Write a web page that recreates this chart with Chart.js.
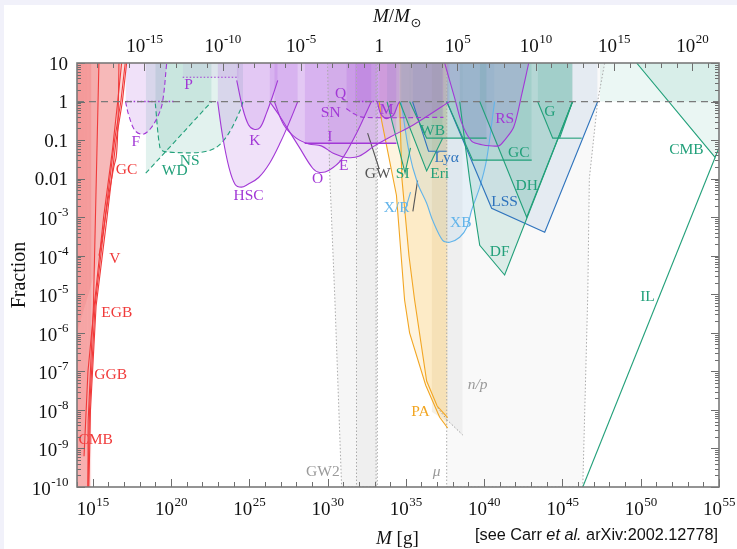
<!DOCTYPE html>
<html><head><meta charset="utf-8">
<script src="https://cdn.jsdelivr.net/npm/chart.js@4.4.1/dist/chart.umd.min.js"></script>
<style>html,body{margin:0;padding:0;background:#fff;}canvas{display:block;}</style>
</head><body>
<canvas id="c" width="737" height="549"></canvas>
<script>
// ---------- DATA: log10(M / g) and log10(fraction) ----------
const MSUN_G = 1.989e33;
const X_MIN_LOG = 14, X_MAX_LOG = 55, Y_MIN_LOG = -10, Y_MAX_LOG = 1;
const X_TICK_EXP = [15, 20, 25, 30, 35, 40, 45, 50, 55];
const TOP_TICK_EXP = [-15, -10, -5, 0, 5, 10, 15, 20];
const Y_TICK_EXP = [1, 0, -1, -2, -3, -4, -5, -6, -7, -8, -9, -10];

// evaporation (red)
const EV_CMB_M = [14, 14.70, 14.71, 15.05, 15.40];
const EV_CMB_F = [-10, -10, -8.3, -5.3, 1];
const EV_EGB_M = [14, 14.70, 14.80, 15.15, 15.80, 16.40, 16.80, 17.08];
const EV_EGB_F = [-10, -10, -8, -5.3, -3, -1, 0, 1];
const EV_V_M = [14, 14.76, 14.86, 15.22, 15.92, 16.50, 16.90, 17.17];
const EV_V_F = [-10, -10, -8, -5.3, -3, -1, 0, 1];
const EV_GGB_M = [14, 14.45, 14.70, 15.10, 15.70, 16.25, 16.60, 16.85];
const EV_GGB_F = [-9.2, -9.2, -7, -5.3, -3, -1.3, 0, 1];
const EV_GC_M = [14, 15.4, 16.0, 16.35, 16.5, 16.58, 16.63, 16.68];
const EV_GC_F = [-6, -4, -2.5, -1.7, -1.45, -1.0, -0.3, 1];
const EV_BAND_M = [14, 14.92, 14.92];
const EV_BAND_F = [-10, -10, 1];

// lensing (purple)
const F_M = [17.1, 17.3, 17.7, 18.2, 18.7, 19.2, 19.47, 19.73];
const F_F = [0, -0.35, -0.75, -0.85, -0.7, -0.35, 0, 1];
const FDOT_M = [17.17, 20.24];
const FDOT_F = [0, 0];
const P_M = [20.75, 24.33];
const P_F = [0.63, 0.63];
const HSC_M = [22.98, 23.3, 23.7, 24.1, 24.5, 24.9, 25.6, 26.3, 27.0, 27.6, 28.1];
const HSC_F = [0, -0.9, -1.7, -2.15, -2.22, -2.15, -1.97, -1.6, -1.05, -0.5, 0];
const K_M = [24.2, 24.6, 24.95, 25.3, 25.7, 26.1, 26.5, 26.82];
const K_F = [0.55, -0.2, -0.6, -0.72, -0.67, -0.3, 0.15, 0.55];
const O_M = [26.3, 26.9, 27.4, 28.2, 29.05, 29.5, 30.1, 30.9, 31.85, 32.4, 32.8];
const O_F = [0, -0.35, -0.67, -1.19, -1.73, -1.84, -1.78, -1.5, -0.82, -0.35, 0];
const E_M = [26.6, 27.2, 28.0, 28.8, 29.6, 30.4, 31.2, 32.0, 33.0, 34.0, 35.5, 37.8];
const E_F = [0, -0.6, -0.95, -1.1, -1.15, -1.35, -1.45, -1.42, -1.15, -0.92, -0.6, 0];
const I_M = [28.54, 34.4];
const I_F = [-1.08, -1.08];
const SN_M = [31.2, 31.65, 32.3, 37.4];
const SN_F = [-0.18, -0.31, -0.41, -0.41];
const Q_M = [31.75, 33.2];
const Q_F = [0, 0];
const ML_M = [33.18, 33.37, 33.63, 33.82, 34.2, 34.47, 34.6];
const ML_F = [0, -0.3, -0.42, -0.44, -0.36, -0.1, 0];
const RS_M = [37.48, 38.12, 38.57, 39.2, 39.85, 40.93, 41.31, 41.89, 42.4, 42.85];
const RS_F = [1, 0.09, -0.56, -1.03, -1.12, -1.15, -1.0, -0.66, 0.18, 1];

// dynamical (green)
const WD_M = [18.39, 18.39, 22.6];
const WD_F = [1, -1.86, 0];
const NS_M = [19.0, 19.3, 19.6, 21.84, 22.9, 23.7, 24.45, 24.6];
const NS_F = [-0.05, -1.2, -1.3, -1.32, -1.19, -0.82, -0.2, 0];
const WB_M = [35.24, 36.33, 40.16];
const WB_F = [0, -0.95, -0.95];
const ERI_M = [34.6, 36.33, 37.35];
const ERI_F = [0, -1.8, -0.95];
const SI_M = [33.8, 34.95, 35.3];
const SI_F = [0, -1.85, -1.2];
const GCD_M = [37.61, 39.27, 43.04];
const GCD_F = [0, -1.52, -1.52];
const DF_M = [38.44, 39.08, 39.72, 41.31, 45.65];
const DF_F = [0, -2.04, -3.73, -4.5, 0];
const DH_M = [39.72, 42.72, 45.65];
const DH_F = [0, -3.0, 0];
const G_M = [43.42, 44.38, 44.82, 45.65];
const G_F = [0, -0.95, -0.95, 0];
const G2_M = [44.82, 46.23];
const G2_F = [-0.95, -0.95];
const CMBA_M = [49.74, 54.75, 55];
const CMBA_F = [1, -1.45, -1.2];
const IL_M = [46.3, 54.75];
const IL_F = [-10, -1.45];
const MINT_M = [47.4, 55];
const MINT_F = [0, 0];

// blue / light blue
const LSS_M = [37.61, 40.48, 43.87, 47.25];
const LSS_F = [0, -2.77, -3.39, 0];
const LYA_M = [35.43, 36.45, 37.6];
const LYA_F = [0, -1.29, -1.29];
const XB_M = [34.7, 35.2, 35.75, 36.33, 36.71, 37.35, 37.8, 38.44, 38.9, 39.2, 39.72, 40.16, 40.67];
const XB_F = [0, -1.3, -2.12, -2.64, -3.08, -3.6, -3.65, -3.52, -3.26, -2.82, -2.22, -1.5, 0];
const XR_M = [34.9, 35.3];
const XR_F = [-2.9, -2.35];

// GW (dark gray lines)
const GW_M = [32.56, 33.3];
const GW_F = [-0.82, -1.75];
const GWB_M = [35.75, 35.45];
const GWB_F = [-2.05, -2.85];

// accretion (orange)
const PA1_M = [33.3, 33.45, 34.4, 34.92, 35.24, 36.27, 37.16, 37.67];
const PA1_F = [0, -0.49, -2.43, -5.15, -6.0, -7.36, -8.19, -8.47];
const PA2_M = [34.6, 34.75, 35.2, 35.56, 36.33, 37.0, 37.67];
const PA2_F = [0, -2.0, -4.0, -5.15, -7.25, -7.9, -8.2];
const TAN_M = [36.65, 37.61];
const TAN_F = [-8.05, -8.3];

// gray bands
const GW2_M = [30.0, 30.13, 30.47, 30.9, 33.18, 33.18];
const GW2_F = [1, -1.78, -5.15, -10, -10, 1];
const GWA_M = [31.85, 31.85, 33.1, 33.1];
const GWA_F = [1, -10, -10, 1];
const MU_M = [37.61, 37.61, 46.3, 46.62, 46.72, 47.25, 47.7];
const MU_F = [1, -10, -10, -5, -2, 0, 1];
const NP_M = [37.61, 38.63];
const NP_F = [-8.25, -8.65];
const NPL_M = [37.03, 37.61];
const NPL_F = [-7.94, -8.25];

const UNIT_M = [14, 55];
const UNIT_F = [0, 0];

// labels
const LAB_TEXT = ['P','F','GC','WD','NS','HSC','K','O','E','I','SN','Q','M','GW','SI','X/R','WB','Lyα','Eri','RS','G','GC','DH','LSS','XB','DF','CMB','IL','V','EGB','GGB','CMB','PA','n/p','μ','GW2'];
const LAB_M = [21.13,17.75,17.17,20.24,21.2,24.96,25.35,29.37,31.03,30.14,30.2,30.84,33.78,33.2,34.8,34.41,36.71,37.61,37.16,41.31,44.19,42.21,42.72,41.31,38.51,40.99,52.92,50.43,16.41,16.54,16.15,15.19,35.94,39.59,36.97,29.7];
const LAB_F = [0.42,-1.06,-1.78,-1.81,-1.55,-2.46,-1.03,-2.02,-1.68,-0.93,-0.3,0.21,-0.23,-1.89,-1.89,-2.77,-0.75,-1.47,-1.89,-0.46,-0.28,-1.32,-2.2,-2.61,-3.16,-3.91,-1.26,-5.08,-4.07,-5.49,-7.08,-8.79,-8.06,-7.36,-9.62,-9.62];
const LAB_COL = ['pur','pur','red','grn','grn','pur','pur','pur','pur','pur','pur','pur','pur','dgr','grn','lbl','grn','blu','grn','pur','grn','grn','grn','blu','lbl','grn','grn','grn','red','red','red','red','ora','gry','gry','gry'];
const LAB_ITALIC = ['n/p','μ'];

// ---------- STYLES ----------
const COL = {red:'#f03a3a', pur:'#a238d6', grn:'#22a07a', blu:'#2f74bd', lbl:'#62b4ea', ora:'#f2a623', gry:'#9a9a9a', dgr:'#555555'};
const RED_F='rgba(240,60,60,0.10)', PUR_F='rgba(165,75,220,0.17)', GRN_F='rgba(50,165,135,0.14)',
      BLU_F='rgba(60,120,190,0.10)', LBL_F='rgba(110,180,235,0.12)', ORA_F='rgba(250,200,100,0.20)',
      GRY_F='rgba(110,110,110,0.06)';
const SER = '"Liberation Serif","DejaVu Serif",serif';
const SANS = '"Liberation Sans","DejaVu Sans",sans-serif';
const DASH=[5,3], DOT=[1.5,2];
const HIDE_FIRST = {borderColor: c => c.p0DataIndex === 0 ? 'rgba(0,0,0,0)' : undefined};

function pts(M, F){ return M.map((m,i)=>({x:Math.pow(10,m), y:Math.pow(10,F[i])})); }
function ds(M, F, line, fillc, extra){
  return Object.assign({
    data: pts(M,F), borderColor: line || 'rgba(0,0,0,0)', borderWidth: line ? 1.1 : 0,
    backgroundColor: fillc || 'rgba(0,0,0,0)', fill: fillc ? 'end' : false,
    pointRadius: 0, tension: 0
  }, extra || {});
}

const datasets = [
  ds(UNIT_M, UNIT_F, '#7a7a7a', null, {borderDash:[7,5], borderWidth:1.3}),
  // red
  ds(EV_BAND_M, EV_BAND_F, null, 'rgba(240,60,60,0.16)'),
  ds(EV_CMB_M, EV_CMB_F, COL.red, RED_F, {segment:HIDE_FIRST}),
  ds(EV_EGB_M, EV_EGB_F, COL.red, RED_F, {segment:HIDE_FIRST}),
  ds(EV_V_M, EV_V_F, COL.red, RED_F, {segment:HIDE_FIRST}),
  ds(EV_GGB_M, EV_GGB_F, COL.red, RED_F, {segment:HIDE_FIRST}),
  ds(EV_GC_M, EV_GC_F, COL.red, RED_F, {segment:HIDE_FIRST, tension:0.3}),
  // purple
  ds(F_M, F_F, COL.pur, PUR_F, {borderDash:DASH, tension:0.35}),
  ds(FDOT_M, FDOT_F, COL.pur, null, {borderDash:DOT, borderWidth:1.5}),
  ds(P_M, P_F, COL.pur, 'rgba(170,80,220,0.08)', {borderDash:DOT}),
  ds(HSC_M, HSC_F, COL.pur, PUR_F, {tension:0.35}),
  ds(K_M, K_F, COL.pur, PUR_F, {tension:0.35}),
  ds(O_M, O_F, COL.pur, PUR_F, {tension:0.35}),
  ds(E_M, E_F, COL.pur, PUR_F, {tension:0.35}),
  ds(I_M, I_F, COL.pur, PUR_F, {borderWidth:1.5}),
  ds(SN_M, SN_F, COL.pur, PUR_F, {borderDash:DASH, tension:0.3}),
  ds(Q_M, Q_F, COL.pur, PUR_F, {borderDash:DOT, borderWidth:1.5}),
  ds(ML_M, ML_F, COL.pur, PUR_F, {tension:0.35}),
  ds(RS_M, RS_F, COL.pur, PUR_F, {tension:0.3}),
  // green
  ds(WD_M, WD_F, COL.grn, GRN_F, {borderDash:DASH, segment:HIDE_FIRST}),
  ds(NS_M, NS_F, COL.grn, GRN_F, {borderDash:DASH, tension:0.3}),
  ds(WB_M, WB_F, COL.grn, GRN_F),
  ds(ERI_M, ERI_F, COL.grn, GRN_F),
  ds(SI_M, SI_F, COL.grn, GRN_F),
  ds(GCD_M, GCD_F, COL.grn, GRN_F),
  ds(DF_M, DF_F, COL.grn, GRN_F),
  ds(DH_M, DH_F, COL.grn, GRN_F),
  ds(G_M, G_F, COL.grn, GRN_F),
  ds(G2_M, G2_F, COL.grn, null),
  ds(CMBA_M, CMBA_F, COL.grn, 'rgba(50,170,135,0.10)'),
  ds(IL_M, IL_F, COL.grn, null),
  ds(MINT_M, MINT_F, null, 'rgba(60,180,150,0.10)'),
  // blue
  ds(LSS_M, LSS_F, COL.blu, BLU_F),
  ds(LYA_M, LYA_F, COL.blu, BLU_F),
  ds(XB_M, XB_F, COL.lbl, LBL_F, {tension:0.3}),
  ds(XR_M, XR_F, COL.lbl, null),
  // GW lines
  ds(GW_M, GW_F, COL.dgr, null),
  ds(GWB_M, GWB_F, COL.dgr, null),
  // orange
  ds(PA1_M, PA1_F, COL.ora, ORA_F),
  ds(PA2_M, PA2_F, COL.ora, ORA_F),
  ds(TAN_M, TAN_F, null, 'rgba(190,160,100,0.16)'),
  // gray
  ds(GW2_M, GW2_F, '#aaaaaa', GRY_F, {borderDash:DOT, borderWidth:1}),
  ds(GWA_M, GWA_F, '#aaaaaa', 'rgba(110,110,110,0.05)', {borderDash:DOT, borderWidth:1}),
  ds(MU_M, MU_F, '#aaaaaa', 'rgba(110,110,110,0.045)', {borderDash:DOT, borderWidth:1}),
  ds(NP_M, NP_F, '#999999', 'rgba(110,110,110,0.07)', {borderDash:DOT, borderWidth:1}),
  ds(NPL_M, NPL_F, '#999999', null, {borderDash:DOT, borderWidth:1})
];

function powText(ctx, base, exp, x, y, align, sz){
  const esz = Math.round(sz*0.68);
  ctx.font = sz+'px '+SER; const w1 = ctx.measureText(base).width;
  ctx.font = esz+'px '+SER; const w2 = exp ? ctx.measureText(exp).width : 0;
  const W = w1+w2;
  const x0 = align==='center' ? x-W/2 : (align==='right' ? x-W : x);
  ctx.textAlign='left'; ctx.textBaseline='alphabetic';
  ctx.font = sz+'px '+SER; ctx.fillText(base, x0, y);
  if (exp){ ctx.font = esz+'px '+SER; ctx.fillText(exp, x0+w1+0.5, y-sz*0.47); }
}

const deco = {
  id:'deco',
  beforeDraw(chart){
    const c = chart.ctx; c.save();
    c.fillStyle='#ffffff'; c.fillRect(0,0,chart.width,chart.height);
    c.fillStyle='#f1f1fa'; c.fillRect(0,0,chart.width,5); c.fillRect(0,0,4,chart.height);
    c.restore();
  },
  afterDatasetsDraw(chart){
    const c = chart.ctx, xs = chart.scales.x, ys = chart.scales.y;
    c.save();
    c.textAlign='center'; c.textBaseline='middle';
    for (let i=0;i<LAB_TEXT.length;i++){
      const it = LAB_ITALIC.includes(LAB_TEXT[i]);
      c.font = (it?'italic ':'') + '15.5px ' + SER;
      c.fillStyle = COL[LAB_COL[i]];
      c.fillText(LAB_TEXT[i], xs.getPixelForValue(Math.pow(10,LAB_M[i])), ys.getPixelForValue(Math.pow(10,LAB_F[i])));
    }
    c.restore();
  },
  afterDraw(chart){
    const c = chart.ctx, xs = chart.scales.x, ys = chart.scales.y;
    const {left,right,top,bottom} = chart.chartArea;
    c.save();
    c.strokeStyle='#6e6e6e'; c.lineWidth=1;
    const seg=(a,b,d,e)=>{c.beginPath();c.moveTo(a,b);c.lineTo(d,e);c.stroke();};
    for (let e=X_MIN_LOG;e<=X_MAX_LOG;e++){
      const px = Math.round(xs.getPixelForValue(Math.pow(10,e)))+0.5;
      seg(px,bottom,px,bottom-(e%5===0?8:5));
    }
    for (let k=-18;k<=22;k++){
      const px = xs.getPixelForValue(MSUN_G*Math.pow(10,k));
      if (px<left+1||px>right-1) continue;
      const p = Math.round(px)+0.5;
      seg(p,top,p,top+(k%5===0?8:5));
    }
    for (let e=Y_MIN_LOG;e<=Y_MAX_LOG;e++){
      const py = Math.round(ys.getPixelForValue(Math.pow(10,e)))+0.5;
      seg(left,py,left+8,py); seg(right,py,right-8,py);
      if (e<Y_MAX_LOG) for (let d=2;d<=9;d++){
        const q = Math.round(ys.getPixelForValue(d*Math.pow(10,e)))+0.5;
        seg(left,q,left+4,q); seg(right,q,right-4,q);
      }
    }
    c.strokeStyle='#7a7a7a'; c.lineWidth=1.6;
    c.strokeRect(left,top,right-left,bottom-top);
    // tick labels
    c.fillStyle='#111';
    X_TICK_EXP.forEach(e=>{ powText(c,'10',String(e),xs.getPixelForValue(Math.pow(10,e)),515,'center',19); });
    TOP_TICK_EXP.forEach(k=>{
      const px = xs.getPixelForValue(MSUN_G*Math.pow(10,k));
      if (k===0) powText(c,'1','',px,52,'center',19);
      else powText(c,'10',String(k),px,52,'center',19);
    });
    Y_TICK_EXP.forEach(e=>{
      const py = ys.getPixelForValue(Math.pow(10,e));
      if (e===1) powText(c,'10','',68,py+6.5,'right',19);
      else if (e===0) powText(c,'1','',68,py+6.5,'right',19);
      else if (e===-1) powText(c,'0.1','',68,py+6.5,'right',19);
      else if (e===-2) powText(c,'0.01','',68,py+6.5,'right',19);
      else powText(c,'10',String(e),68,py+8,'right',19);
    });
    // axis titles
    c.save(); c.translate(25,275); c.rotate(-Math.PI/2);
    c.font='20px '+SER; c.textAlign='center'; c.textBaseline='alphabetic'; c.fillText('Fraction',0,0); c.restore();
    c.textAlign='left'; c.textBaseline='alphabetic';
    let x0=373;
    c.font='italic 19px '+SER; c.fillText('M',x0,22); x0+=c.measureText('M').width;
    c.font='19px '+SER; c.fillText('/',x0,22); x0+=c.measureText('/').width;
    c.font='italic 19px '+SER; c.fillText('M',x0,22); x0+=c.measureText('M').width;
    c.font='13px "DejaVu Sans",sans-serif'; c.fillText('⊙',x0+0.5,27);
    x0=376;
    c.font='italic 19px '+SER; c.fillText('M',x0,544); x0+=c.measureText('M').width;
    c.font='19px '+SER; c.fillText(' [g]',x0,544);
    // note
    const parts=[['[see Carr ',''],['et al.','italic '],[' arXiv:2002.12778]','']];
    let fs=15, tw=0;
    const meas=()=>{tw=0;parts.forEach(p=>{c.font=p[1]+fs.toFixed(2)+'px '+SANS;tw+=c.measureText(p[0]).width;});};
    meas(); fs = fs*243/tw; meas();
    x0 = 718-tw;
    parts.forEach(p=>{c.font=p[1]+fs.toFixed(2)+'px '+SANS; c.fillText(p[0],x0,540); x0+=c.measureText(p[0]).width;});
    c.restore();
  }
};

new Chart(document.getElementById('c'), {
  type:'line',
  data:{datasets},
  options:{
    responsive:false, animation:false, devicePixelRatio:1,
    layout:{padding:{left:77,top:63,right:18,bottom:62}},
    scales:{
      x:{type:'logarithmic', min:Math.pow(10,X_MIN_LOG), max:Math.pow(10,X_MAX_LOG), display:false},
      y:{type:'logarithmic', min:Math.pow(10,Y_MIN_LOG), max:Math.pow(10,Y_MAX_LOG), display:false}
    },
    plugins:{legend:{display:false}, tooltip:{enabled:false}, filler:{drawTime:'beforeDatasetsDraw'}},
    elements:{point:{radius:0}}
  },
  plugins:[deco]
});
</script>
</body></html>
